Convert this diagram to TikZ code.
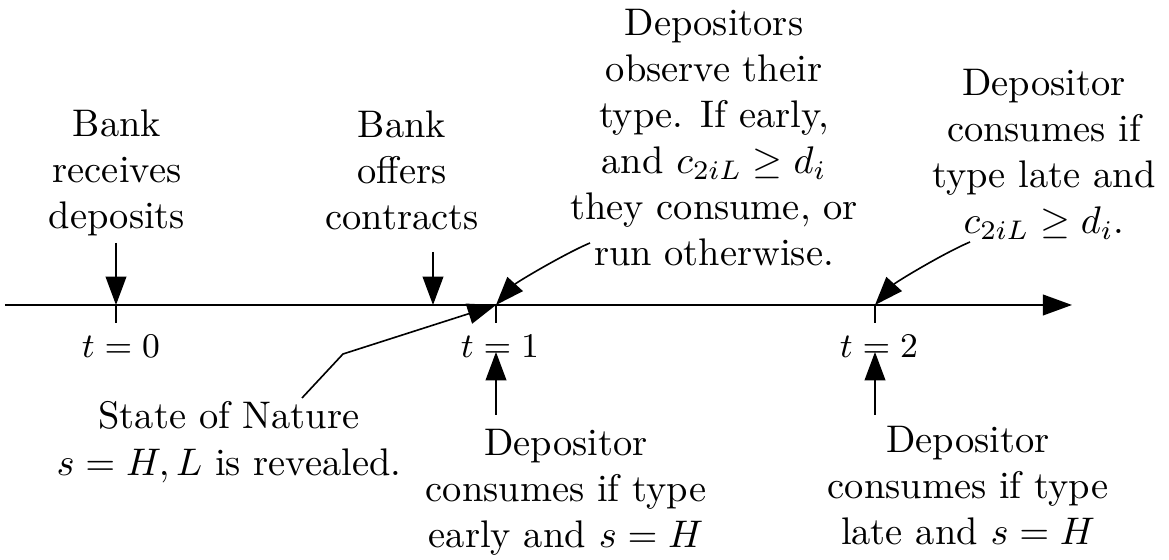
\documentclass[tikz,border=0pt]{standalone}
\usetikzlibrary{arrows.meta}
\begin{document}
\begin{tikzpicture}[x=0.26pt,y=-0.26pt,
  txt/.style={align=center,inner sep=0pt,anchor=north,font=\fontsize{10}{12}\selectfont},
  ln/.style={line width=0.42pt},
  arr/.style={ln,-{Triangle[length=7.4pt,width=5.4pt]}},
  tlbl/.style={inner sep=0pt,anchor=base,font=\fontsize{9.2}{11}\selectfont}]
\useasboundingbox (0,0) rectangle (1169,560);
% timeline
\coordinate (L) at (5,305);
\coordinate (R) at (1072,305);
\draw[line width=0.5pt,-{Triangle[length=7.6pt,width=5.4pt]}] (L) -- (R);
% ticks
\coordinate (t0) at (116,305);
\coordinate (t1) at (496,305);
\coordinate (t2) at (875,305);
\coordinate (t0b) at (116,323);
\coordinate (t1b) at (496,323);
\coordinate (t2b) at (875,323);
\draw[ln] (t0) -- (t0b);
\draw[ln] (t1) -- (t1b);
\draw[ln] (t2) -- (t2b);
\node[tlbl] (l0) at (121,358) {$t=0$};
\node[tlbl] (l1) at (500,358) {$t=1$};
\node[tlbl] (l2) at (879,358) {$t=2$};
% top texts
\node[txt] (bank1) at (117,109) {Bank\\receives\\deposits};
\node[txt] (bank2) at (402,110) {Bank\\offers\\contracts};
\node[txt] (dep) at (714,8) {Depositors\\observe their\\type. If early,\\and $c_{2iL}\geq d_i$\\they consume, or\\run otherwise.};
\node[txt] (late) at (1044,68) {Depositor\\consumes if\\type late and\\$c_{2iL}\geq d_i$.};
% bottom texts
\node[txt] (nature) at (229,401) {State of Nature\\$s=H,L$ is revealed.};
\node[txt] (early) at (566,428) {Depositor\\consumes if type\\early and $s=H$};
\node[txt] (lateH) at (968,425) {Depositor\\consumes if type\\late and $s=H$};
% arrows
\coordinate (a0) at (116,243);
\coordinate (a1) at (433,252);
\coordinate (c1) at (433,305);
\draw[arr] (a0) -- (t0);
\draw[arr] (a1) -- (c1);
\coordinate (dstart) at (590,243);
\draw[arr] (dstart) .. controls (566,253) and (517,282) .. (t1);
\coordinate (lstart) at (970,242);
\draw[arr] (lstart) .. controls (944,253) and (896,282) .. (t2);
\coordinate (n1) at (302,398);
\coordinate (n2) at (343,354);
\draw[arr] (n1) -- (n2) -- (t1);
\coordinate (e0) at (496,415);
\coordinate (e1) at (496,352);
\draw[arr] (e0) -- (e1);
\coordinate (f0) at (875,415);
\coordinate (f1) at (875,352);
\draw[arr] (f0) -- (f1);
\end{tikzpicture}
\end{document}
